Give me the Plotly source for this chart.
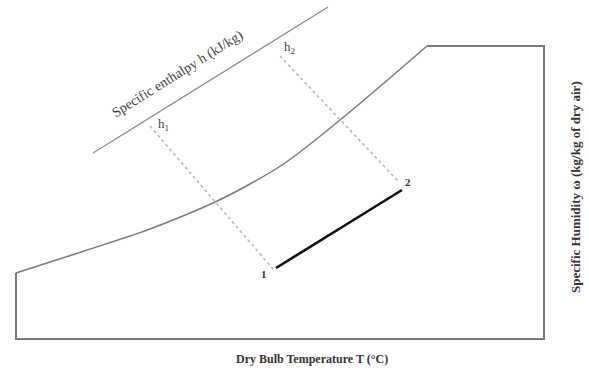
import plotly.graph_objects as go

# Schematic coordinates (chart units: x to the right, y downward)
sat_x = [16, 75, 130, 150, 213, 250, 285, 340, 427]
sat_y = [273, 254, 236, 229, 203, 184, 163, 120, 46]

frame_x = [427, 544, 544, 16, 16]
frame_y = [46, 46, 339, 339, 273]

enth_x = [93, 328]
enth_y = [153, 7]

dash1_x = [150, 273]
dash1_y = [126, 269]
dash2_x = [280, 398]
dash2_y = [56, 181]

proc_x = [276, 402]
proc_y = [268, 190]
proc_labels = ["1", "2"]

h_labels = ["h<sub>1</sub>", "h<sub>2</sub>"]
h_label_x = [163, 290]
h_label_y = [124, 47]

x_title = "Dry Bulb Temperature T (°C)"
y_title = "Specific Humidity ω (kg/kg of dry air)"
h_title = "Specific enthalpy h (kJ/kg)"

fig = go.Figure()
grey = "#7a7a7a"
fig.add_trace(go.Scatter(x=sat_x, y=sat_y, mode="lines", line=dict(color=grey, width=1.5, shape="spline", smoothing=1.0), hoverinfo="skip"))
fig.add_trace(go.Scatter(x=frame_x, y=frame_y, mode="lines", line=dict(color=grey, width=2), hoverinfo="skip"))
fig.add_trace(go.Scatter(x=enth_x, y=enth_y, mode="lines", line=dict(color="#8a8a8a", width=1.3), hoverinfo="skip"))
for dx, dy in [(dash1_x, dash1_y), (dash2_x, dash2_y)]:
    fig.add_trace(go.Scatter(x=dx, y=dy, mode="lines", line=dict(color="#a9bccb", width=1.6, dash="dot"), hoverinfo="skip"))
fig.add_trace(go.Scatter(x=proc_x, y=proc_y, mode="lines", line=dict(color="#111111", width=2.6), hoverinfo="skip"))

serif = "Liberation Serif, Times New Roman, serif"
# process point labels
fig.add_annotation(x=proc_x[0], y=proc_y[0], text="<b>" + proc_labels[0] + "</b>", showarrow=False, xshift=-12, yshift=-6,
                   font=dict(family=serif, size=11, color="#333"))
fig.add_annotation(x=proc_x[1], y=proc_y[1], text="<b>" + proc_labels[1] + "</b>", showarrow=False, xshift=6, yshift=8,
                   font=dict(family=serif, size=11, color="#333"))
for t, hx, hy in zip(h_labels, h_label_x, h_label_y):
    fig.add_annotation(x=hx, y=hy, text=t, showarrow=False, font=dict(family=serif, size=13, color="#444"))

fig.add_annotation(x=178, y=74, text=h_title, showarrow=False, textangle=-32,
                   font=dict(family=serif, size=14, color="#444"))
fig.add_annotation(x=312, y=359, text="<b>" + x_title + "</b>", showarrow=False,
                   font=dict(family=serif, size=12, color="#333"))
fig.add_annotation(x=575, y=187, text="<b>" + y_title + "</b>", showarrow=False, textangle=-90,
                   font=dict(family=serif, size=13, color="#333"))

fig.update_layout(
    width=589, height=373, margin=dict(l=0, r=0, t=0, b=0),
    paper_bgcolor="white", plot_bgcolor="white", showlegend=False,
    xaxis=dict(range=[0, 589], visible=False, fixedrange=True),
    yaxis=dict(range=[373, 0], visible=False, fixedrange=True),
)
fig.write_html("out.html", config={"displayModeBar": False},
               post_script="document.body.style.margin='0';document.body.style.overflow='hidden';")
